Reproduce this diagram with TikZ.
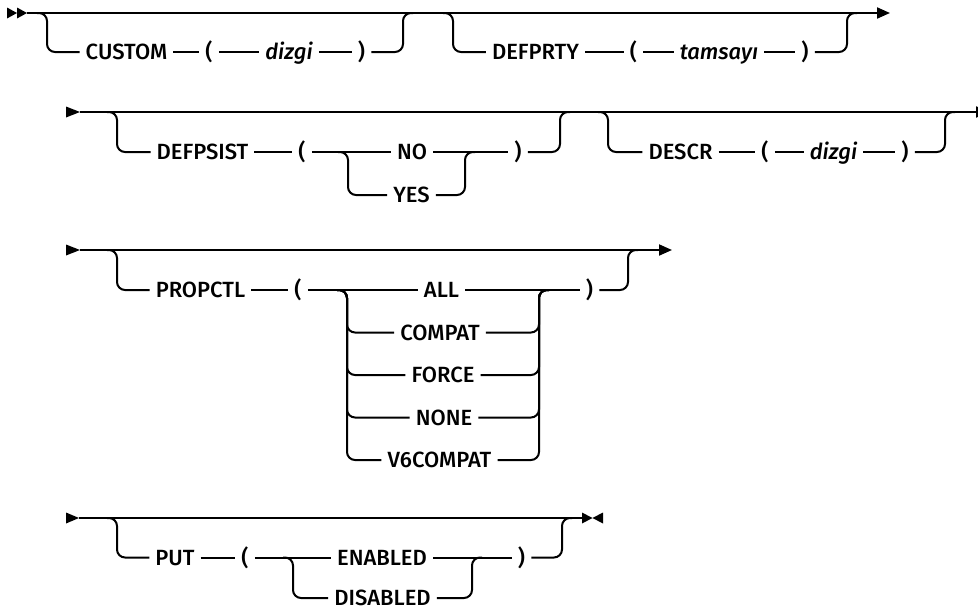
\documentclass[tikz,border=0pt]{standalone}
\usepackage{fontspec}
\setmainfont{Fira Sans}[UprightFont={* Medium},ItalicFont={* Medium Italic}]
\usetikzlibrary{arrows.meta}
\begin{document}
\begin{tikzpicture}[x=1pt,y=-1pt,
  ln/.style={line width=2pt},
  rr/.style={line width=2pt, rounded corners=8pt},
  kw/.style={font=\fontsize{22}{25}\selectfont, inner xsep=6pt, inner ysep=0pt, text height=15.2pt, text depth=0pt},
  var/.style={kw, font=\fontsize{22}{25}\selectfont\itshape},
  tip/.style={-{Triangle[length=13pt,width=11pt]}}
  ]
\useasboundingbox (0,0) rectangle (978,614);
\clip (0,0) rectangle (978,614);

% ---------------- Row 1 ----------------
\coordinate (s1a) at (17,13);
\coordinate (s1) at (27,13);
\fill (s1a) -- ++(-10,-5.5) -- ++(0,11) -- cycle;
\fill (s1) -- ++(-10,-5.5) -- ++(0,11) -- cycle;
\coordinate (e1) at (890,13);
\draw[ln,tip] (s1) -- (e1);

\coordinate (b1l) at (47,13);
\coordinate (b1r) at (403,13);
\node[kw] (custom) at (126.5,52) {CUSTOM};
\node[kw] (lp1) at (209,52) {(};
\node[var] (dizgi1) at (289,52) {dizgi};
\node[kw] (rp1) at (361.5,52) {)};
\draw[rr] ([xshift=-10pt]b1l) -- (b1l) -- (b1l |- custom) -- (custom.west);
\draw[ln] (custom.east) -- (lp1.west) (lp1.east) -- (dizgi1.west) (dizgi1.east) -- (rp1.west);
\draw[rr] (rp1.east) -- (rp1.east -| b1r) -- (b1r) -- ([xshift=10pt]b1r);

\coordinate (b2l) at (453,13);
\coordinate (b2r) at (847,13);
\node[kw] (defprty) at (535.5,52) {DEFPRTY};
\node[kw] (lp2) at (633.5,52) {(};
\node[var] (tamsayi) at (719,52) {tamsayı};
\node[kw] (rp2) at (805,52) {)};
\draw[rr] ([xshift=-10pt]b2l) -- (b2l) -- (b2l |- defprty) -- (defprty.west);
\draw[ln] (defprty.east) -- (lp2.west) (lp2.east) -- (tamsayi.west) (tamsayi.east) -- (rp2.west);
\draw[rr] (rp2.east) -- (rp2.east -| b2r) -- (b2r) -- ([xshift=10pt]b2r);

% ---------------- Row 2 ----------------
\coordinate (s2) at (80,112);
\fill (s2) -- ++(-14,-5.5) -- ++(0,11) -- cycle;
\coordinate (e2) at (989,112);
\draw[ln,tip] (s2) -- (e2);

\coordinate (b3l) at (117,112);
\coordinate (b3r) at (560,112);
\node[kw] (defpsist) at (202.5,152) {DEFPSIST};
\node[kw] (lp3) at (302,152) {(};
\node[kw] (no) at (412,152) {NO};
\node[kw] (yes) at (411.5,195) {YES};
\node[kw] (rp3) at (518,152) {)};
\coordinate (c3l) at (348,152);
\coordinate (c3r) at (465,152);
\draw[rr] ([xshift=-10pt]b3l) -- (b3l) -- (b3l |- defpsist) -- (defpsist.west);
\draw[ln] (defpsist.east) -- (lp3.west) (lp3.east) -- (no.west) (no.east) -- (rp3.west);
\draw[rr] ([xshift=-10pt]c3l) -- (c3l) -- (c3l |- yes) -- (yes.west);
\draw[rr] (yes.east) -- (yes.east -| c3r) -- (c3r) -- ([xshift=10pt]c3r);
\draw[rr] (rp3.east) -- (rp3.east -| b3r) -- (b3r) -- ([xshift=10pt]b3r);

\coordinate (b4l) at (608,112);
\coordinate (b4r) at (945,112);
\node[kw] (descr) at (680.5,152) {DESCR};
\node[kw] (lp4) at (765,152) {(};
\node[var] (dizgi2) at (833.5,152) {dizgi};
\node[kw] (rp4) at (905,152) {)};
\draw[rr] ([xshift=-10pt]b4l) -- (b4l) -- (b4l |- descr) -- (descr.west);
\draw[ln] (descr.east) -- (lp4.west) (lp4.east) -- (dizgi2.west) (dizgi2.east) -- (rp4.west);
\draw[rr] (rp4.east) -- (rp4.east -| b4r) -- (b4r) -- ([xshift=10pt]b4r);

% ---------------- Row 3 ----------------
\coordinate (s3) at (80,250);
\fill (s3) -- ++(-14,-5.5) -- ++(0,11) -- cycle;
\coordinate (e3) at (672,250);
\draw[ln,tip] (s3) -- (e3);

\coordinate (b5l) at (117,250);
\coordinate (b5r) at (628,250);
\node[kw] (propctl) at (200.5,290) {PROPCTL};
\node[kw] (lp5) at (298,290) {(};
\node[kw] (all) at (441.5,290) {ALL};
\node[kw] (compat) at (440,332.5) {COMPAT};
\node[kw] (force) at (443,375) {FORCE};
\node[kw] (none) at (444,417.5) {NONE};
\node[kw] (v6compat) at (439.5,460) {V6COMPAT};
\node[kw] (rp5) at (589.5,290) {)};
\coordinate (c5l) at (347,290);
\coordinate (c5r) at (539,290);
\draw[rr] ([xshift=-10pt]b5l) -- (b5l) -- (b5l |- propctl) -- (propctl.west);
\draw[ln] (propctl.east) -- (lp5.west) (lp5.east) -- (all.west) (all.east) -- (rp5.west);
\foreach \n in {compat,force,none,v6compat}{
  \draw[rr] ([xshift=-10pt]c5l) -- (c5l) -- (c5l |- \n) -- (\n.west);
  \draw[rr] (\n.east) -- (\n.east -| c5r) -- (c5r) -- ([xshift=10pt]c5r);
}
\draw[rr] (rp5.east) -- (rp5.east -| b5r) -- (b5r) -- ([xshift=10pt]b5r);

% ---------------- Row 4 ----------------
\coordinate (s4) at (79,518);
\fill (s4) -- ++(-13,-5.5) -- ++(0,11) -- cycle;
\coordinate (e4) at (582,518);
\coordinate (e4b) at (603,518);
\draw[ln] (s4) -- (e4);
\fill (e4) -- ++(0,-5.5) -- ++(10.5,5.5) -- ++(-10.5,5.5) -- cycle;
\fill (e4b) -- ++(0,-5.5) -- ++(-10.5,5.5) -- ++(10.5,5.5) -- cycle;

\coordinate (b6l) at (117,518);
\coordinate (b6r) at (562,518);
\node[kw] (put) at (175,557.5) {PUT};
\node[kw] (lp6) at (245,557.5) {(};
\node[kw] (enabled) at (382,557.5) {ENABLED};
\node[kw] (disabled) at (382.5,598) {DISABLED};
\node[kw] (rp6) at (521.5,557.5) {)};
\coordinate (c6l) at (293,557.5);
\coordinate (c6r) at (472,557.5);
\draw[rr] ([xshift=-10pt]b6l) -- (b6l) -- (b6l |- put) -- (put.west);
\draw[ln] (put.east) -- (lp6.west) (lp6.east) -- (enabled.west) (enabled.east) -- (rp6.west);
\draw[rr] ([xshift=-10pt]c6l) -- (c6l) -- (c6l |- disabled) -- (disabled.west);
\draw[rr] (disabled.east) -- (disabled.east -| c6r) -- (c6r) -- ([xshift=10pt]c6r);
\draw[rr] (rp6.east) -- (rp6.east -| b6r) -- (b6r) -- ([xshift=10pt]b6r);
\end{tikzpicture}
\end{document}
